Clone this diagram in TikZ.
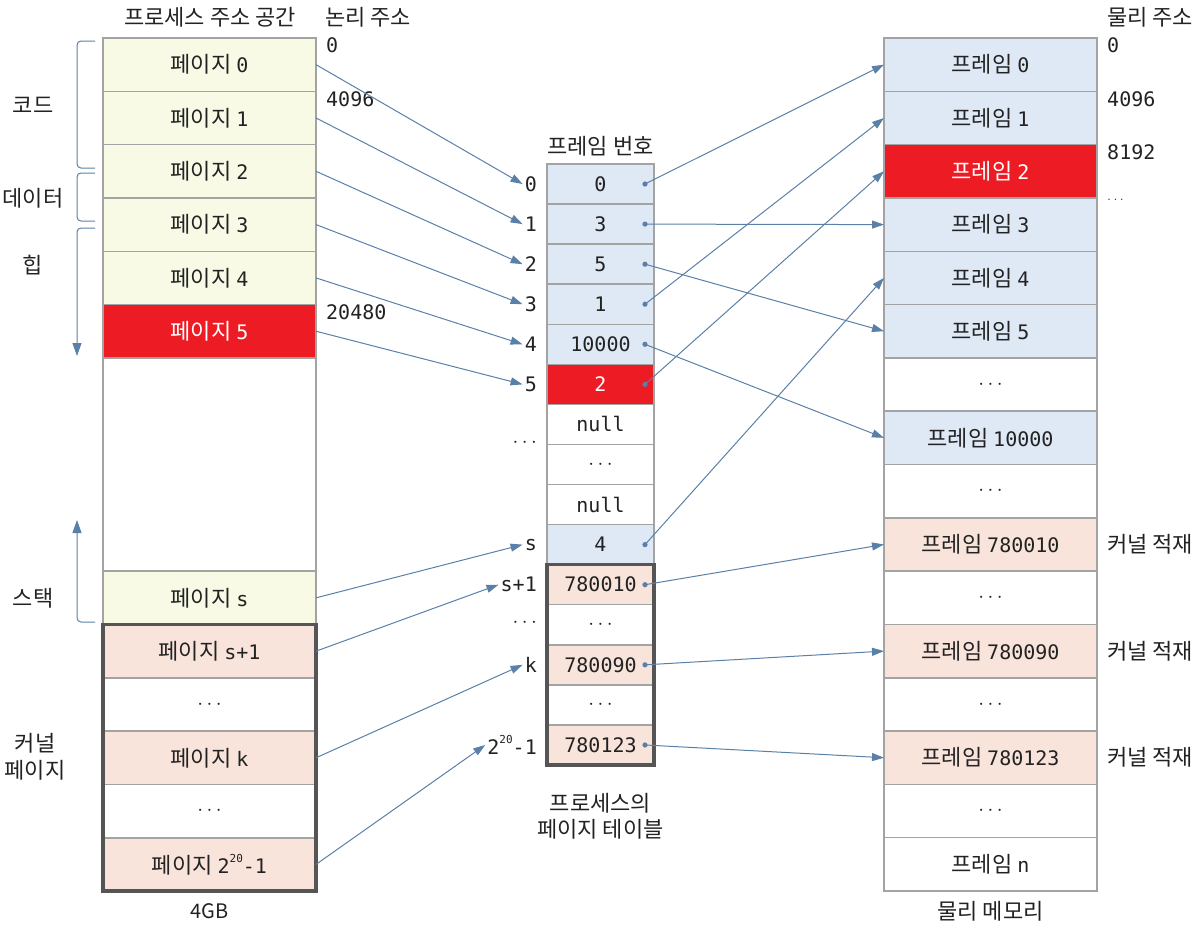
\documentclass[tikz,border=0pt]{standalone}
\usepackage{fontspec}
\setmainfont{Noto Sans CJK KR}
\newfontfamily\mnf{DejaVu Sans Mono}
\newcommand{\mn}{\mnf\fontsize{20}{24}\selectfont}
\usetikzlibrary{arrows.meta}
\definecolor{cyel}{HTML}{F8FAE6}
\definecolor{cblue}{HTML}{DFE9F6}
\definecolor{cred}{HTML}{ED1C24}
\definecolor{cpink}{HTML}{F9E4DC}
\definecolor{cgray}{HTML}{A3A3A3}
\definecolor{cdark}{HTML}{555555}
\definecolor{carr}{HTML}{5A80A8}
\definecolor{ctext}{HTML}{222222}
\newcommand{\dd}{{\fontsize{21}{21}\selectfont$\cdots$}}
\newcommand{\supt}{\raisebox{0.55em}{\mnf\fontsize{11}{11}\selectfont 20}}
\begin{document}
\begin{tikzpicture}[x=1pt,y=-1pt,
  font=\fontsize{22}{26}\selectfont, text=ctext,
  cellbase/.style={draw=cgray, line width=1.5pt, inner sep=0pt, outer sep=0pt},
  pcell/.style={cellbase, minimum width=213pt, minimum height=53.3125pt},
  tcell/.style={cellbase, minimum width=107pt, minimum height=40.067pt},
  lbl/.style={anchor=east, inner sep=2pt},
  addr/.style={anchor=west, inner sep=0pt},
  arr/.style={draw=carr, line width=1pt, -{Triangle[length=12pt,width=8pt]}},
  brace/.style={draw=carr, line width=1pt, rounded corners=4pt},
  dotc/.style={fill=carr}]
\useasboundingbox (0,0) rectangle (1197,924);

% ---------- headers ----------
\node (hproc) at (210,17) {프로세스 주소 공간};
\node[addr] (hlog) at (325,17) {논리 주소};
\node (hframe) at (600.5,146) {프레임 번호};
\node[addr] (hphys) at (1107,17) {물리 주소};

% ---------- process address space ----------
\node[pcell, fill=cyel] (p0) at (209.5,64.66) {페이지 \mn 0};
\node[pcell, fill=cyel] (p1) at (209.5,117.97) {페이지 \mn 1};
\node[pcell, fill=cyel] (p2) at (209.5,171.28) {페이지 \mn 2};
\node[pcell, fill=cyel] (p3) at (209.5,224.59) {페이지 \mn 3};
\node[pcell, fill=cyel] (p4) at (209.5,277.91) {페이지 \mn 4};
\node[pcell, fill=cred, text=white] (p5) at (209.5,331.22) {페이지 \mn 5};
\node[pcell, fill=white, minimum height=213.25pt] (pblank) at (209.5,464.5) {};
\node[pcell, fill=cyel] (p10) at (209.5,597.84) {페이지 \mn s};
\node[pcell, fill=cpink] (p11) at (209.5,651.16) {페이지 \mn s+1};
\node[pcell, fill=white] (p12) at (209.5,704.47) {\dd};
\node[pcell, fill=cpink] (p13) at (209.5,757.78) {페이지 \mn k};
\node[pcell, fill=white] (p14) at (209.5,811.09) {\dd};
\node[pcell, fill=cpink] (p15) at (209.5,864.41) {페이지 {\mn 2\supt-1}};
\draw[cdark, line width=3.2pt] (p11.north west) rectangle (p15.south east);
\node[font=\fontsize{20}{24}\selectfont] (l4gb) at (209.5,911) {4GB};

% logical addresses
\node[addr] (a0) at (326,45) {\mn 0};
\node[addr] (a4096) at (326,99) {\mn 4096};
\node[addr] (a20480) at (326,312) {\mn 20480};

% braces / region labels
\draw[brace] (95,41) -- (77,41) -- (77,168) -- (95,168);
\draw[brace] (95,173) -- (77,173) -- (77,221) -- (95,221);
\draw[brace, -{Triangle[length=13pt,width=9pt]}] (95,228) -- (77,228) -- (77,356);
\draw[brace, -{Triangle[length=13pt,width=9pt]}] (95,622) -- (77,622) -- (77,520);
\node (rcode) at (33,105) {코드};
\node (rdata) at (33,198) {데이터};
\node (rheap) at (33,265) {힙};
\node (rstack) at (33,598) {스택};
\node[align=center, font=\fontsize{22}{27}\selectfont] (rkern) at (35,757) {커널\\페이지};

% ---------- page table ----------
\node[tcell, fill=cblue] (t0) at (600.5,184.03) {\mn 0};
\node[tcell, fill=cblue] (t1) at (600.5,224.10) {\mn 3};
\node[tcell, fill=cblue] (t2) at (600.5,264.17) {\mn 5};
\node[tcell, fill=cblue] (t3) at (600.5,304.23) {\mn 1};
\node[tcell, fill=cblue] (t4) at (600.5,344.30) {\mn 10000};
\node[tcell, fill=cred, text=white] (t5) at (600.5,384.37) {\mn 2};
\node[tcell, fill=white] (t6) at (600.5,424.43) {\mn null};
\node[tcell, fill=white] (t7) at (600.5,464.50) {\dd};
\node[tcell, fill=white] (t8) at (600.5,504.57) {\mn null};
\node[tcell, fill=cblue] (t9) at (600.5,544.63) {\mn 4};
\node[tcell, fill=cpink] (t10) at (600.5,584.70) {\mn 780010\hspace{14pt}};
\node[tcell, fill=white] (t11) at (600.5,624.77) {\dd};
\node[tcell, fill=cpink] (t12) at (600.5,664.83) {\mn 780090\hspace{14pt}};
\node[tcell, fill=white] (t13) at (600.5,704.90) {\dd};
\node[tcell, fill=cpink] (t14) at (600.5,744.97) {\mn 780123\hspace{14pt}};
\draw[cdark, line width=3.2pt] (t10.north west) rectangle (t14.south east);
\node[align=center, font=\fontsize{22}{26}\selectfont] (tcap) at (600.5,816) {프로세스의\\페이지 테이블};

% row labels
\node[lbl] (l0) at (539,184.03) {\mn 0};
\node[lbl] (l1) at (539,224.10) {\mn 1};
\node[lbl] (l2) at (539,264.17) {\mn 2};
\node[lbl] (l3) at (539,304.23) {\mn 3};
\node[lbl] (l4) at (539,344.30) {\mn 4};
\node[lbl] (l5) at (539,384.37) {\mn 5};
\node[lbl] (ldots1) at (539,443) {\dd};
\node[lbl] (ls) at (539,544.63) {\mn s};
\node[lbl] (ls1) at (539,584.70) {\mn s+1};
\node[lbl] (ldots2) at (539,623) {\dd};
\node[lbl] (lk) at (539,664.83) {\mn k};
\node[lbl] (ln) at (539,744.97) {\mn 2\supt-1};

% ---------- physical memory ----------
\node[pcell, fill=cblue] (f0) at (990.5,64.66) {프레임 \mn 0};
\node[pcell, fill=cblue] (f1) at (990.5,117.97) {프레임 \mn 1};
\node[pcell, fill=cred, text=white] (f2) at (990.5,171.28) {프레임 \mn 2};
\node[pcell, fill=cblue] (f3) at (990.5,224.59) {프레임 \mn 3};
\node[pcell, fill=cblue] (f4) at (990.5,277.91) {프레임 \mn 4};
\node[pcell, fill=cblue] (f5) at (990.5,331.22) {프레임 \mn 5};
\node[pcell, fill=white] (f6) at (990.5,384.53) {\dd};
\node[pcell, fill=cblue] (f7) at (990.5,437.84) {프레임 \mn 10000};
\node[pcell, fill=white] (f8) at (990.5,491.16) {\dd};
\node[pcell, fill=cpink] (f9) at (990.5,544.47) {프레임 \mn 780010};
\node[pcell, fill=white] (f10) at (990.5,597.78) {\dd};
\node[pcell, fill=cpink] (f11) at (990.5,651.09) {프레임 \mn 780090};
\node[pcell, fill=white] (f12) at (990.5,704.41) {\dd};
\node[pcell, fill=cpink] (f13) at (990.5,757.72) {프레임 \mn 780123};
\node[pcell, fill=white] (f14) at (990.5,811.03) {\dd};
\node[pcell, fill=white] (f15) at (990.5,864.34) {프레임 \mn n};
\node (lphys) at (990.5,911) {물리 메모리};

% physical addresses
\node[addr] (b0) at (1107,45) {\mn 0};
\node[addr] (b4096) at (1107,99) {\mn 4096};
\node[addr] (b8192) at (1107,152) {\mn 8192};
\node[addr] (bdots) at (1107,200) {\fontsize{15}{15}\selectfont$\ldots$};
\node[addr] (k1) at (1107,544.47) {커널 적재};
\node[addr] (k2) at (1107,651.09) {커널 적재};
\node[addr] (k3) at (1107,757.72) {커널 적재};

% ---------- page -> table arrows ----------
\draw[arr] (p0.east) -- (l0.west);
\draw[arr] (p1.east) -- (l1.west);
\draw[arr] (p2.east) -- (l2.west);
\draw[arr] (p3.east) -- (l3.west);
\draw[arr] (p4.east) -- (l4.west);
\draw[arr] (p5.east) -- (l5.west);
\draw[arr] (p10.east) -- (ls.west);
\draw[arr] (p11.east) -- (ls1.west);
\draw[arr] (p13.east) -- (lk.west);
\draw[arr] (p15.east) -- (ln.west);

% ---------- table -> frame arrows ----------
\coordinate (d0) at (645,184.03);
\coordinate (d1) at (645,224.10);
\coordinate (d2) at (645,264.17);
\coordinate (d3) at (645,304.23);
\coordinate (d4) at (645,344.30);
\coordinate (d5) at (645,384.37);
\coordinate (d9) at (645,544.63);
\coordinate (d10) at (645,584.70);
\coordinate (d12) at (645,664.83);
\coordinate (d14) at (645,744.97);
\foreach \d in {d0,d1,d2,d3,d4,d5,d9,d10,d12,d14} \fill[dotc] (\d) circle (2.6pt);
\draw[arr] (d0) -- (f0.west);
\draw[arr] (d1) -- (f3.west);
\draw[arr] (d2) -- (f5.west);
\draw[arr] (d3) -- (f1.west);
\draw[arr] (d4) -- (f7.west);
\draw[arr] (d5) -- (f2.west);
\draw[arr] (d9) -- (f4.west);
\draw[arr] (d10) -- (f9.west);
\draw[arr] (d12) -- (f11.west);
\draw[arr] (d14) -- (f13.west);
\end{tikzpicture}
\end{document}
